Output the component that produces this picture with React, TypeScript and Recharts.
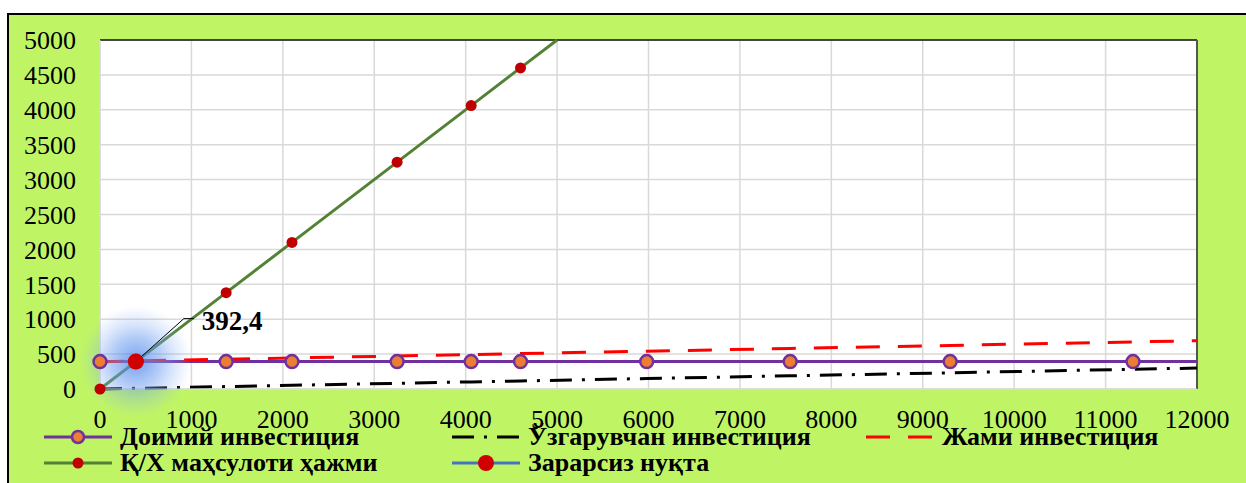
import {
  CartesianGrid,
  ComposedChart,
  Line,
  ReferenceLine,
  Scatter,
  XAxis,
  YAxis,
} from "recharts";

// x positions
const fixedX = [0, 392.4, 1380, 2100, 3250, 4060, 4600, 5980, 7550, 9300, 11300, 12000];
const fixedY = [392.4, 392.4, 392.4, 392.4, 392.4, 392.4, 392.4, 392.4, 392.4, 392.4, 392.4, 392.4];
const variableY = [0, 10, 35, 53, 81, 102, 115, 150, 189, 232, 283, 300];
const totalY = [392, 402, 427, 445, 473, 494, 507, 542, 581, 624, 675, 692];

const outputX = [0, 392.4, 1380, 2100, 3250, 4060, 4600, 5000];
const outputY = [0, 392.4, 1380, 2100, 3250, 4060, 4600, 5000];

const breakEven = [{ x: 392.4, y: 392.4 }];

const xTicks = [0, 1000, 2000, 3000, 4000, 5000, 6000, 7000, 8000, 9000, 10000, 11000, 12000];
const yTicks = [0, 500, 1000, 1500, 2000, 2500, 3000, 3500, 4000, 4500, 5000];

const fixedData = fixedX.map((x, i) => ({ x, y: fixedY[i], end: i === fixedX.length - 1 }));
const variableData = fixedX.map((x, i) => ({ x, y: variableY[i] }));
const totalData = fixedX.map((x, i) => ({ x, y: totalY[i] }));
const outputData = outputX.map((x, i) => ({ x, y: outputY[i], end: i === outputX.length - 1 }));

const FONT = '"Liberation Serif", "Times New Roman", serif';

const fixedDot = (p: any) =>
  p.payload.end ? <g key={p.index} /> : (
    <circle key={p.index} cx={p.cx} cy={p.cy} r={6.5} fill="#ed7d31" stroke="#7030a0" strokeWidth={2.5} />
  );

const outputDot = (p: any) =>
  p.payload.end ? <g key={p.index} /> : (
    <circle key={p.index} cx={p.cx} cy={p.cy} r={5.5} fill="#c00000" />
  );

const Glow = (p: any) => (
  <g>
    <defs>
      <radialGradient id="glow">
        <stop offset="0%" stopColor="#4f86e8" stopOpacity={0.8} />
        <stop offset="45%" stopColor="#6b9cf0" stopOpacity={0.5} />
        <stop offset="100%" stopColor="#9dbdf5" stopOpacity={0} />
      </radialGradient>
    </defs>
    <circle cx={p.cx} cy={p.cy} r={56} fill="url(#glow)" />
  </g>
);

const BreakEvenDot = (p: any) => (
  <g>
    <polyline
      points={`${p.cx},${p.cy} ${p.cx + 48},${p.cy - 43} ${p.cx + 58},${p.cy - 43}`}
      fill="none"
      stroke="#000"
      strokeWidth={1}
    />
    <circle cx={p.cx} cy={p.cy} r={8} fill="#d00000" />
    <text x={p.cx + 66} y={p.cy - 32} fontFamily={FONT} fontWeight="bold" fontSize={27} fill="#000">
      392,4
    </text>
  </g>
);

function LegendIcon({ kind }: { kind: string }) {
  return (
    <svg width={72} height={20} style={{ display: "block" }}>
      {kind === "fixed" && (
        <>
          <line x1={2} y1={10} x2={70} y2={10} stroke="#7030a0" strokeWidth={3} />
          <circle cx={36} cy={10} r={6} fill="#ed7d31" stroke="#7030a0" strokeWidth={2.5} />
        </>
      )}
      {kind === "variable" && (
        <line x1={2} y1={10} x2={70} y2={10} stroke="#000" strokeWidth={3} strokeDasharray="22 10 3 10" />
      )}
      {kind === "total" && (
        <line x1={2} y1={10} x2={70} y2={10} stroke="#ff0000" strokeWidth={3} strokeDasharray="24 18" />
      )}
      {kind === "output" && (
        <>
          <line x1={2} y1={10} x2={70} y2={10} stroke="#548235" strokeWidth={3} />
          <circle cx={36} cy={10} r={5.5} fill="#c00000" />
        </>
      )}
      {kind === "be" && (
        <>
          <line x1={2} y1={10} x2={70} y2={10} stroke="#4472c4" strokeWidth={3} />
          <circle cx={36} cy={10} r={8} fill="#d00000" />
        </>
      )}
    </svg>
  );
}

const legendItems = [
  { kind: "fixed", label: "Доимий инвестиция", left: 33, top: 412 },
  { kind: "variable", label: "Ўзгарувчан инвестиция", left: 441, top: 412 },
  { kind: "total", label: "Жами инвестиция", left: 855, top: 412 },
  { kind: "output", label: "Қ/Х маҳсулоти ҳажми", left: 33, top: 438 },
  { kind: "be", label: "Зарарсиз нуқта", left: 441, top: 438 },
];

export default function App() {
  return (
    <div
      style={{
        position: "absolute",
        left: 7,
        top: 13,
        width: 1250,
        height: 480,
        border: "2px solid #000",
        background: "#bff564",
        overflow: "hidden",
      }}
    >
      <ComposedChart
        width={1237}
        height={466}
        margin={{ top: 25, right: 49, left: 0, bottom: 52 }}
      >
        <CartesianGrid stroke="#d9d9d9" strokeWidth={1.5} fill="#ffffff" />
        <XAxis
          type="number"
          dataKey="x"
          domain={[0, 12000]}
          ticks={xTicks}
          interval={0}
          tickLine={false}
          tickSize={0}
          tickMargin={21}
          axisLine={{ stroke: "#d9d9d9" }}
          height={40}
          tick={{ fill: "#000", fontSize: 26, fontFamily: FONT }}
        />
        <YAxis
          type="number"
          dataKey="y"
          domain={[0, 5000]}
          ticks={yTicks}
          interval={0}
          tickLine={false}
          tickSize={0}
          tickMargin={24}
          axisLine={{ stroke: "#d9d9d9" }}
          width={91}
          tick={{ fill: "#000", fontSize: 26, fontFamily: FONT }}
        />
        <ReferenceLine y={5000} stroke="#111" strokeWidth={1.5} />
        <ReferenceLine x={12000} stroke="#555" strokeWidth={2} />
        <Scatter data={breakEven} dataKey="y" shape={Glow} isAnimationActive={false} />
        <Line
          data={variableData}
          dataKey="y"
          stroke="#000"
          strokeWidth={3}
          strokeDasharray="22 10 3 10"
          dot={false}
          activeDot={false}
          isAnimationActive={false}
        />
        <Line
          data={fixedData}
          dataKey="y"
          stroke="#7030a0"
          strokeWidth={3}
          dot={fixedDot}
          activeDot={false}
          isAnimationActive={false}
        />
        <Line
          data={totalData}
          dataKey="y"
          stroke="#ff0000"
          strokeWidth={3}
          strokeDasharray="24 18"
          dot={false}
          activeDot={false}
          isAnimationActive={false}
        />
        <Line
          data={outputData}
          dataKey="y"
          stroke="#548235"
          strokeWidth={3}
          dot={outputDot}
          activeDot={false}
          isAnimationActive={false}
        />
        <Scatter data={breakEven} dataKey="y" shape={BreakEvenDot} isAnimationActive={false} />
      </ComposedChart>
      {legendItems.map((it) => (
        <div
          key={it.label}
          style={{
            position: "absolute",
            left: it.left,
            top: it.top,
            display: "flex",
            alignItems: "center",
            gap: 6,
            fontFamily: FONT,
            fontWeight: "bold",
            fontSize: 26,
            lineHeight: "20px",
            color: "#000",
            whiteSpace: "nowrap",
          }}
        >
          <LegendIcon kind={it.kind} />
          <span>{it.label}</span>
        </div>
      ))}
    </div>
  );
}
